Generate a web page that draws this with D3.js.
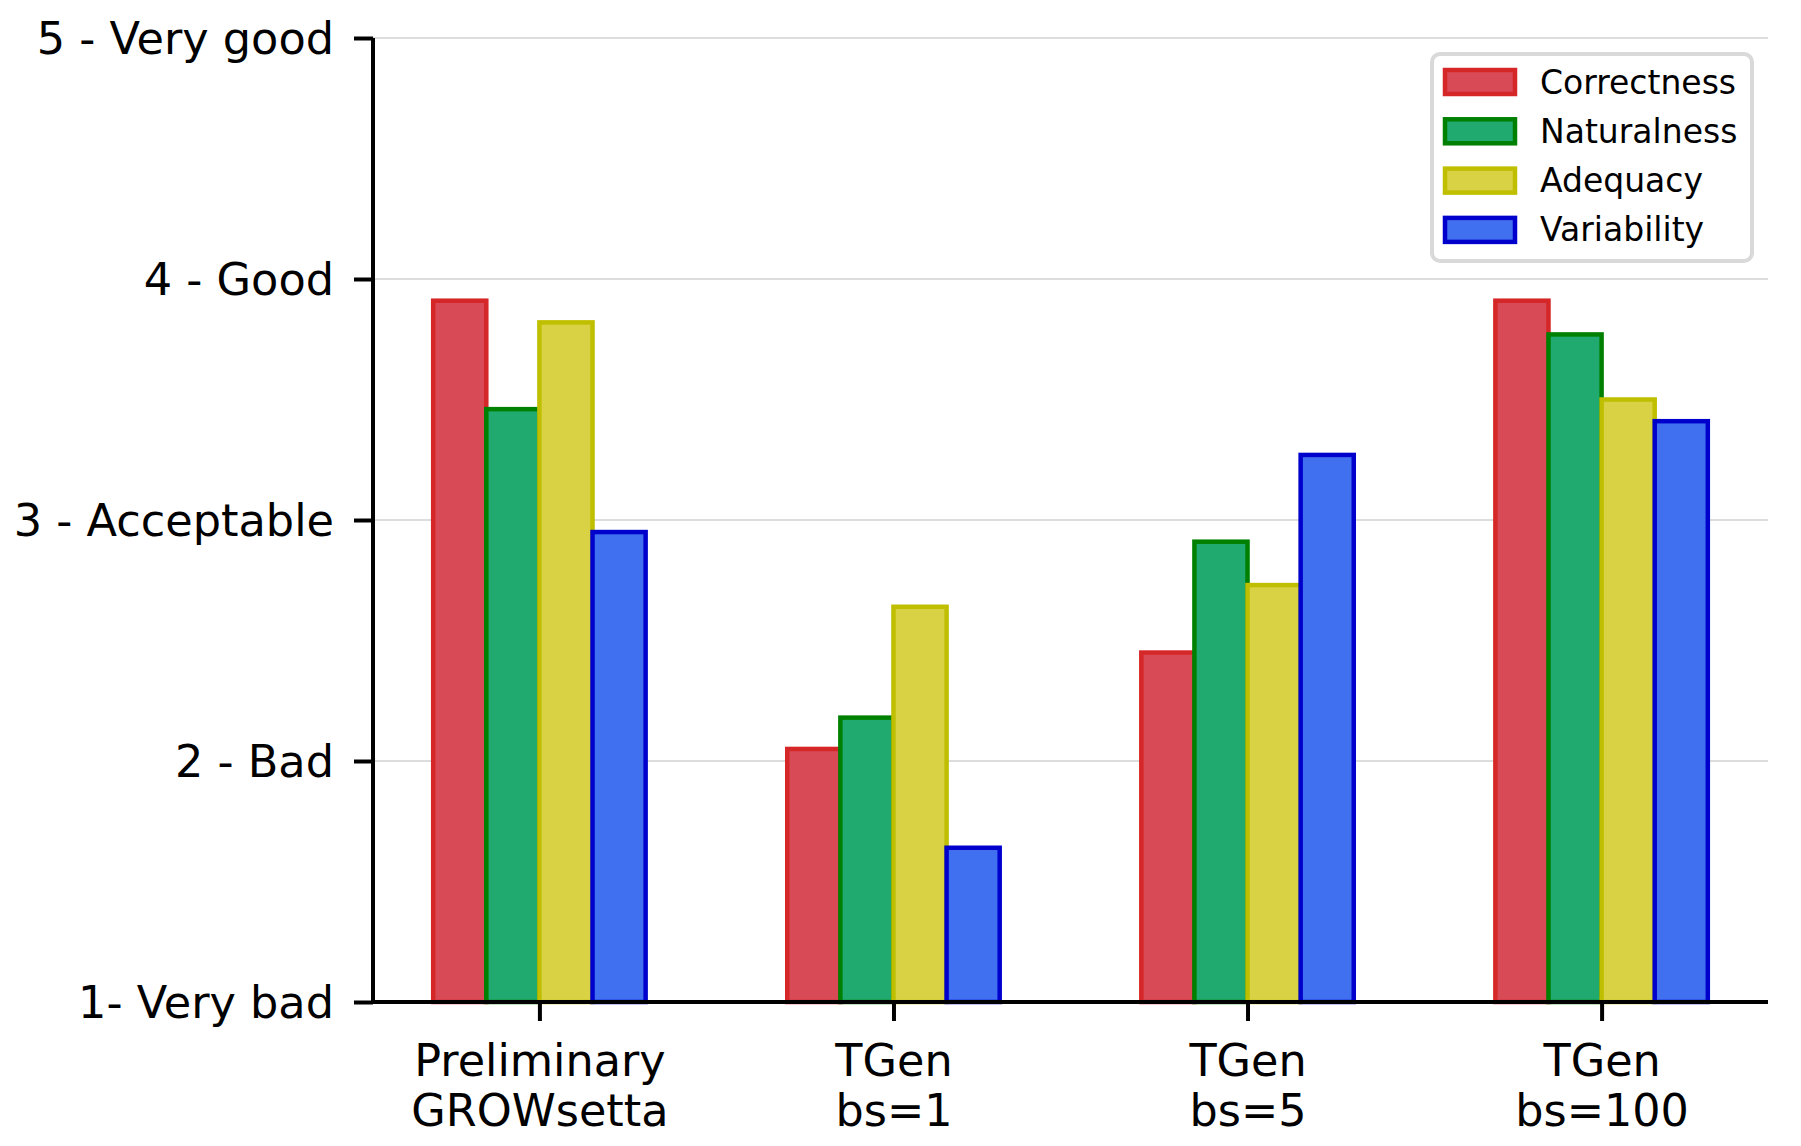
<!DOCTYPE html>
<html>
<head>
<meta charset="utf-8">
<script src="https://cdn.jsdelivr.net/npm/d3@7"></script>
<style>
    body { margin: 0; background: #fff; }
    svg text { font-family: "DejaVu Sans", sans-serif; }
</style>
</head>
<body>
<div id="chartArea"></div>
<script>
// data
const systems = ["Preliminary\nGROWsetta", "TGen\nbs=1", "TGen\nbs=5", "TGen\nbs=100"];
const metrics = ["Correctness", "Naturalness", "Adequacy", "Variability"];
const correctness = [3.91, 2.05, 2.45, 3.91];
const naturalness = [3.46, 2.18, 2.91, 3.77];
const adequacy = [3.82, 2.64, 2.73, 3.50];
const variability = [2.95, 1.64, 3.27, 3.41];
const yTickValues = [1, 2, 3, 4, 5];
const yTickLabels = ["1- Very bad", "2 - Bad", "3 - Acceptable", "4 - Good", "5 - Very good"];

const series = [correctness, naturalness, adequacy, variability];
const fills = ["#d84a56", "#21aa70", "#d9d245", "#4070ef"];
const edges = ["#d62728", "#008000", "#bfbf00", "#0000cc"];

// layout
const width = 1801, height = 1146;
const margin = { top: 38, right: 33, bottom: 144, left: 373 };
const plotW = width - margin.left - margin.right;
const plotH = height - margin.top - margin.bottom;
const barW = 0.15;

var svg = d3.select("#chartArea").append("svg")
    .attr("width", width)
    .attr("height", height);

var g = svg.append("g")
    .attr("transform", "translate(" + margin.left + "," + margin.top + ")");

var xScale = d3.scaleLinear().domain([-0.47, systems.length - 1 + 0.47]).range([0, plotW]);
var yScale = d3.scaleLinear().domain([1, 5]).range([plotH, 0]);

// grid
g.append("g").selectAll("line")
    .data(yTickValues.slice(1))
    .enter().append("line")
    .attr("x1", 0).attr("x2", plotW)
    .attr("y1", function (d) { return yScale(d); })
    .attr("y2", function (d) { return yScale(d); })
    .style("stroke", "#bcbcbc")
    .style("stroke-width", 1.2);

// bars, one series after another so later edges sit on top
series.forEach(function (vals, s) {
    g.append("g").selectAll("rect")
        .data(vals)
        .enter().append("rect")
        .attr("x", function (d, i) { return xScale(i + (s - 2) * barW); })
        .attr("y", function (d) { return yScale(d); })
        .attr("width", xScale(barW) - xScale(0))
        .attr("height", function (d) { return yScale(1) - yScale(d); })
        .style("fill", fills[s])
        .style("stroke", edges[s])
        .style("stroke-width", 4.5);
});

// axes
var yAxis = d3.axisLeft(yScale)
    .tickValues(yTickValues)
    .tickFormat(function (d, i) { return yTickLabels[i]; })
    .tickSize(19)
    .tickPadding(20);

var xAxis = d3.axisBottom(xScale)
    .tickValues(d3.range(systems.length))
    .tickFormat("")
    .tickSize(19);

var yG = g.append("g").attr("class", "y axis").call(yAxis);
yG.attr("font-family", null);
yG.select(".domain").remove();
yG.selectAll(".tick line").style("stroke", "#000").style("stroke-width", 4);
yG.selectAll(".tick text")
    .style("font-size", "44.6px")
    .style("fill", "#000")
    .attr("dy", "0.35em");

var xG = g.append("g").attr("class", "x axis")
    .attr("transform", "translate(0," + plotH + ")")
    .call(xAxis);
xG.attr("font-family", null);
xG.select(".domain").remove();
xG.selectAll(".tick line").style("stroke", "#000").style("stroke-width", 4);

// two-line category labels
xG.selectAll(".tick").each(function (d) {
    var lines = systems[d].split("\n");
    var t = d3.select(this).append("text")
        .attr("text-anchor", "middle")
        .style("font-size", "44.5px")
        .style("fill", "#000");
    lines.forEach(function (ln, k) {
        t.append("tspan").attr("x", 0).attr("y", 74 + k * 50).text(ln);
    });
});

// spines
g.append("line")
    .attr("x1", 0).attr("x2", 0).attr("y1", 0).attr("y2", plotH + 2)
    .style("stroke", "#000").style("stroke-width", 4);
g.append("line")
    .attr("x1", -2).attr("x2", plotW).attr("y1", plotH).attr("y2", plotH)
    .style("stroke", "#000").style("stroke-width", 4);

// legend
var legend = svg.append("g").attr("transform", "translate(1432,54)");
legend.append("rect")
    .attr("width", 320).attr("height", 207)
    .attr("rx", 8)
    .style("fill", "#fff")
    .style("stroke", "#d9d9d9")
    .style("stroke-width", 4);

var items = legend.selectAll(".item")
    .data(metrics)
    .enter().append("g")
    .attr("class", "item")
    .attr("transform", function (d, i) { return "translate(0," + (28 + i * 49.3) + ")"; });

items.append("rect")
    .attr("x", 13).attr("y", -12)
    .attr("width", 70).attr("height", 24)
    .style("fill", function (d, i) { return fills[i]; })
    .style("stroke", function (d, i) { return edges[i]; })
    .style("stroke-width", 4.5);

items.append("text")
    .attr("x", 108)
    .attr("dy", "0.35em")
    .style("font-size", "33px")
    .style("fill", "#000")
    .text(function (d) { return d; });
</script>
</body>
</html>
